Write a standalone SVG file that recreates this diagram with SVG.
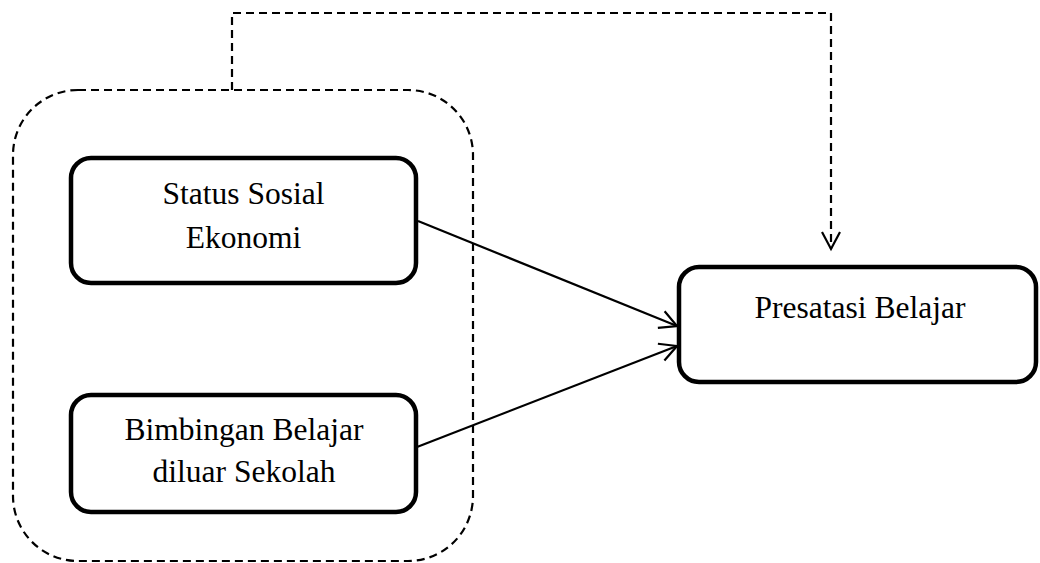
<svg xmlns="http://www.w3.org/2000/svg" width="1040" height="563" viewBox="0 0 1040 563">
<style>
.box{fill:#fff;stroke:#000;stroke-width:4.5}
.t{font-family:"Liberation Serif","Times New Roman",serif;font-size:31.5px;fill:#000;text-anchor:middle}
.dash{fill:none;stroke:#000;stroke-width:2.2;stroke-dasharray:8 5}
.line{fill:none;stroke:#000;stroke-width:2.2}
</style>
<defs>
<marker id="arr" markerUnits="userSpaceOnUse" markerWidth="24" markerHeight="24" viewBox="-20 -12 24 24" refX="0" refY="0" orient="auto">
<path d="M-17,-9 L0,0 L-17,9" fill="none" stroke="#000" stroke-width="2.2"/>
</marker>
</defs>
<rect width="1040" height="563" fill="#fff"/>
<g id="group">
<rect class="dash" x="13" y="90" width="460" height="471" rx="65" ry="65"/>
</g>
<g id="connectors">
<path class="dash" d="M232,90 V13 H831 V249" marker-end="url(#arr)"/>
<path class="line" d="M418,221 L677,326" marker-end="url(#arr)"/>
<path class="line" d="M417,447 L677,346" marker-end="url(#arr)"/>
</g>
<g id="status">
<rect class="box" x="71" y="158" width="345" height="125" rx="20" ry="20"/>
<text class="t" x="243.5" y="204">Status Sosial</text>
<text class="t" x="243.5" y="248">Ekonomi</text>
</g>
<g id="bimbingan">
<rect class="box" x="71" y="395" width="345" height="117" rx="20" ry="20"/>
<text class="t" x="244" y="440">Bimbingan Belajar</text>
<text class="t" x="244" y="482">diluar Sekolah</text>
</g>
<g id="prestasi">
<rect class="box" x="679" y="267" width="357" height="115" rx="20" ry="20"/>
<text class="t" x="860" y="318">Presatasi Belajar</text>
</g>
</svg>
